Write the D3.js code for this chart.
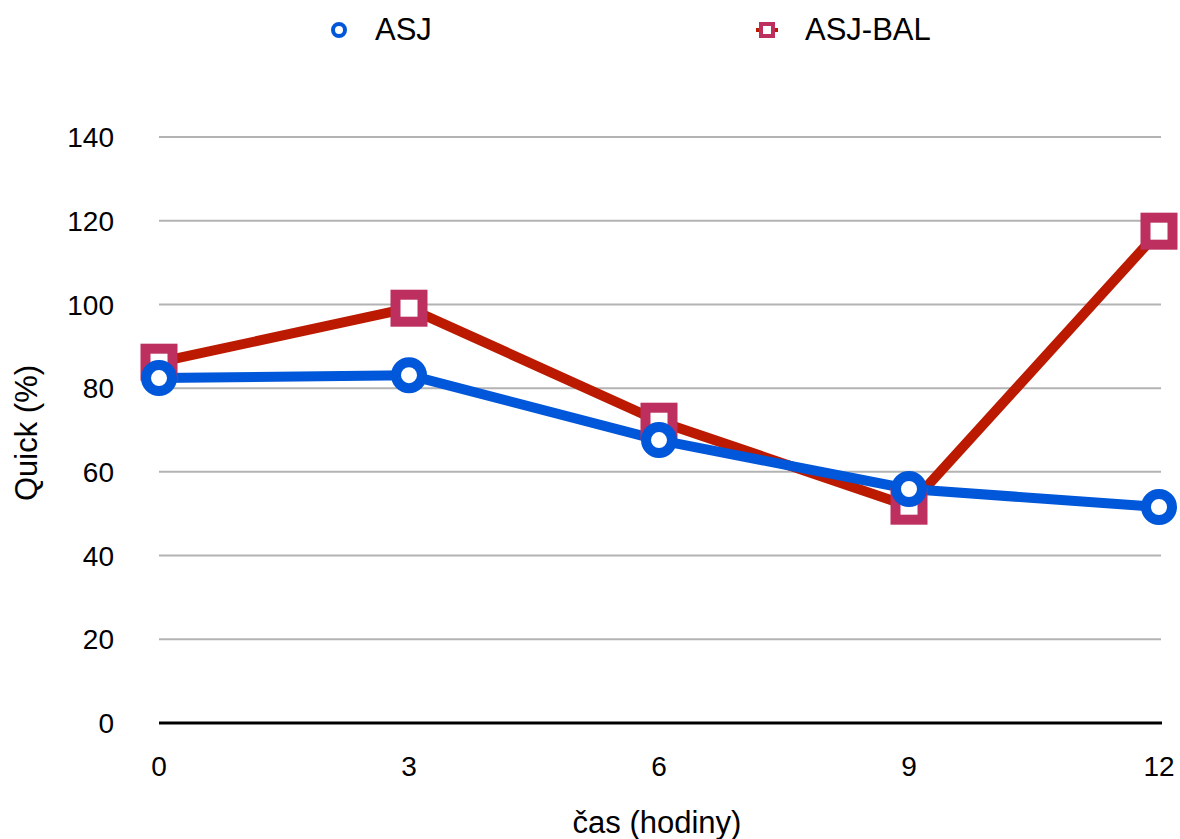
<!DOCTYPE html>
<html><head><meta charset="utf-8">
<script src="https://cdn.jsdelivr.net/npm/d3@7"></script>
<style>body{margin:0;background:#fff}svg{display:block;font-family:"Liberation Sans",Arial,Helvetica,sans-serif}</style>
</head><body><svg id="c" width="1180" height="839"></svg>
<script>
const hours = [0, 3, 6, 9, 12];
const asj = [82.4, 83.1, 67.6, 55.9, 51.6];
const asjBal = [86.2, 99.1, 72.1, 51.8, 117.5];
const yTicks = [0, 20, 40, 60, 80, 100, 120, 140];
const seriesNames = ["ASJ", "ASJ-BAL"];

const svg = d3.select("#c");
const x = d3.scaleLinear().domain([0, 12]).range([159, 1159]);
const y = d3.scaleLinear().domain([0, 140]).range([723, 137]);

// gridlines
svg.append("g").selectAll("line").data(yTicks.filter(d => d > 0)).join("line")
  .attr("x1", 159).attr("x2", 1161).attr("y1", d => y(d)).attr("y2", d => y(d))
  .attr("stroke", "#b3b3b3").attr("stroke-width", 2);
// baseline
svg.append("line").attr("x1", 159).attr("x2", 1162).attr("y1", y(0)).attr("y2", y(0))
  .attr("stroke", "#000").attr("stroke-width", 3);

// y tick labels
svg.append("g").selectAll("text").data(yTicks).join("text")
  .attr("x", 114).attr("y", d => y(d)).attr("dy", "0.36em").attr("text-anchor", "end")
  .attr("font-size", 28).attr("fill", "#000").text(d => d);
// x tick labels
svg.append("g").selectAll("text").data(hours).join("text")
  .attr("x", d => x(d)).attr("y", 776).attr("text-anchor", "middle")
  .attr("font-size", 28).attr("fill", "#000").text(d => d);

svg.append("text").attr("x", 657).attr("y", 833).attr("text-anchor", "middle")
  .attr("font-size", 31).text("čas (hodiny)");
svg.append("text").attr("transform", "translate(37,433) rotate(-90)").attr("text-anchor", "middle")
  .attr("font-size", 31).text("Quick (%)");

const line = d3.line().x((d, i) => x(hours[i])).y(d => y(d));
const red = "#bb1a00", blue = "#0057d9", pink = "#bc2f5f";

svg.append("path").datum(asjBal).attr("d", line).attr("fill", "none")
  .attr("stroke", red).attr("stroke-width", 10).attr("stroke-linejoin", "round");
svg.append("path").datum(asj).attr("d", line).attr("fill", "none")
  .attr("stroke", blue).attr("stroke-width", 10).attr("stroke-linejoin", "round");

// squares
svg.append("g").selectAll("rect").data(asjBal).join("rect")
  .attr("x", (d, i) => x(hours[i]) - 13.5).attr("y", d => y(d) - 13.5)
  .attr("width", 27).attr("height", 27)
  .attr("fill", "#fff").attr("stroke", pink).attr("stroke-width", 10);
// circles
svg.append("g").selectAll("circle").data(asj).join("circle")
  .attr("cx", (d, i) => x(hours[i])).attr("cy", d => y(d)).attr("r", 13)
  .attr("fill", "#fff").attr("stroke", blue).attr("stroke-width", 10);

// legend
const lg = svg.append("g");
lg.append("circle").attr("cx", 339).attr("cy", 30).attr("r", 6)
  .attr("fill", "#fff").attr("stroke", blue).attr("stroke-width", 4);
lg.append("text").attr("x", 375).attr("y", 40).attr("font-size", 31).text(seriesNames[0]);
lg.append("line").attr("x1", 756).attr("x2", 778).attr("y1", 30).attr("y2", 30)
  .attr("stroke", red).attr("stroke-width", 4);
lg.append("rect").attr("x", 761).attr("y", 24).attr("width", 12).attr("height", 12)
  .attr("fill", "#fff").attr("stroke", pink).attr("stroke-width", 4);
lg.append("text").attr("x", 805).attr("y", 40).attr("font-size", 31).text(seriesNames[1]);
</script></body></html>
